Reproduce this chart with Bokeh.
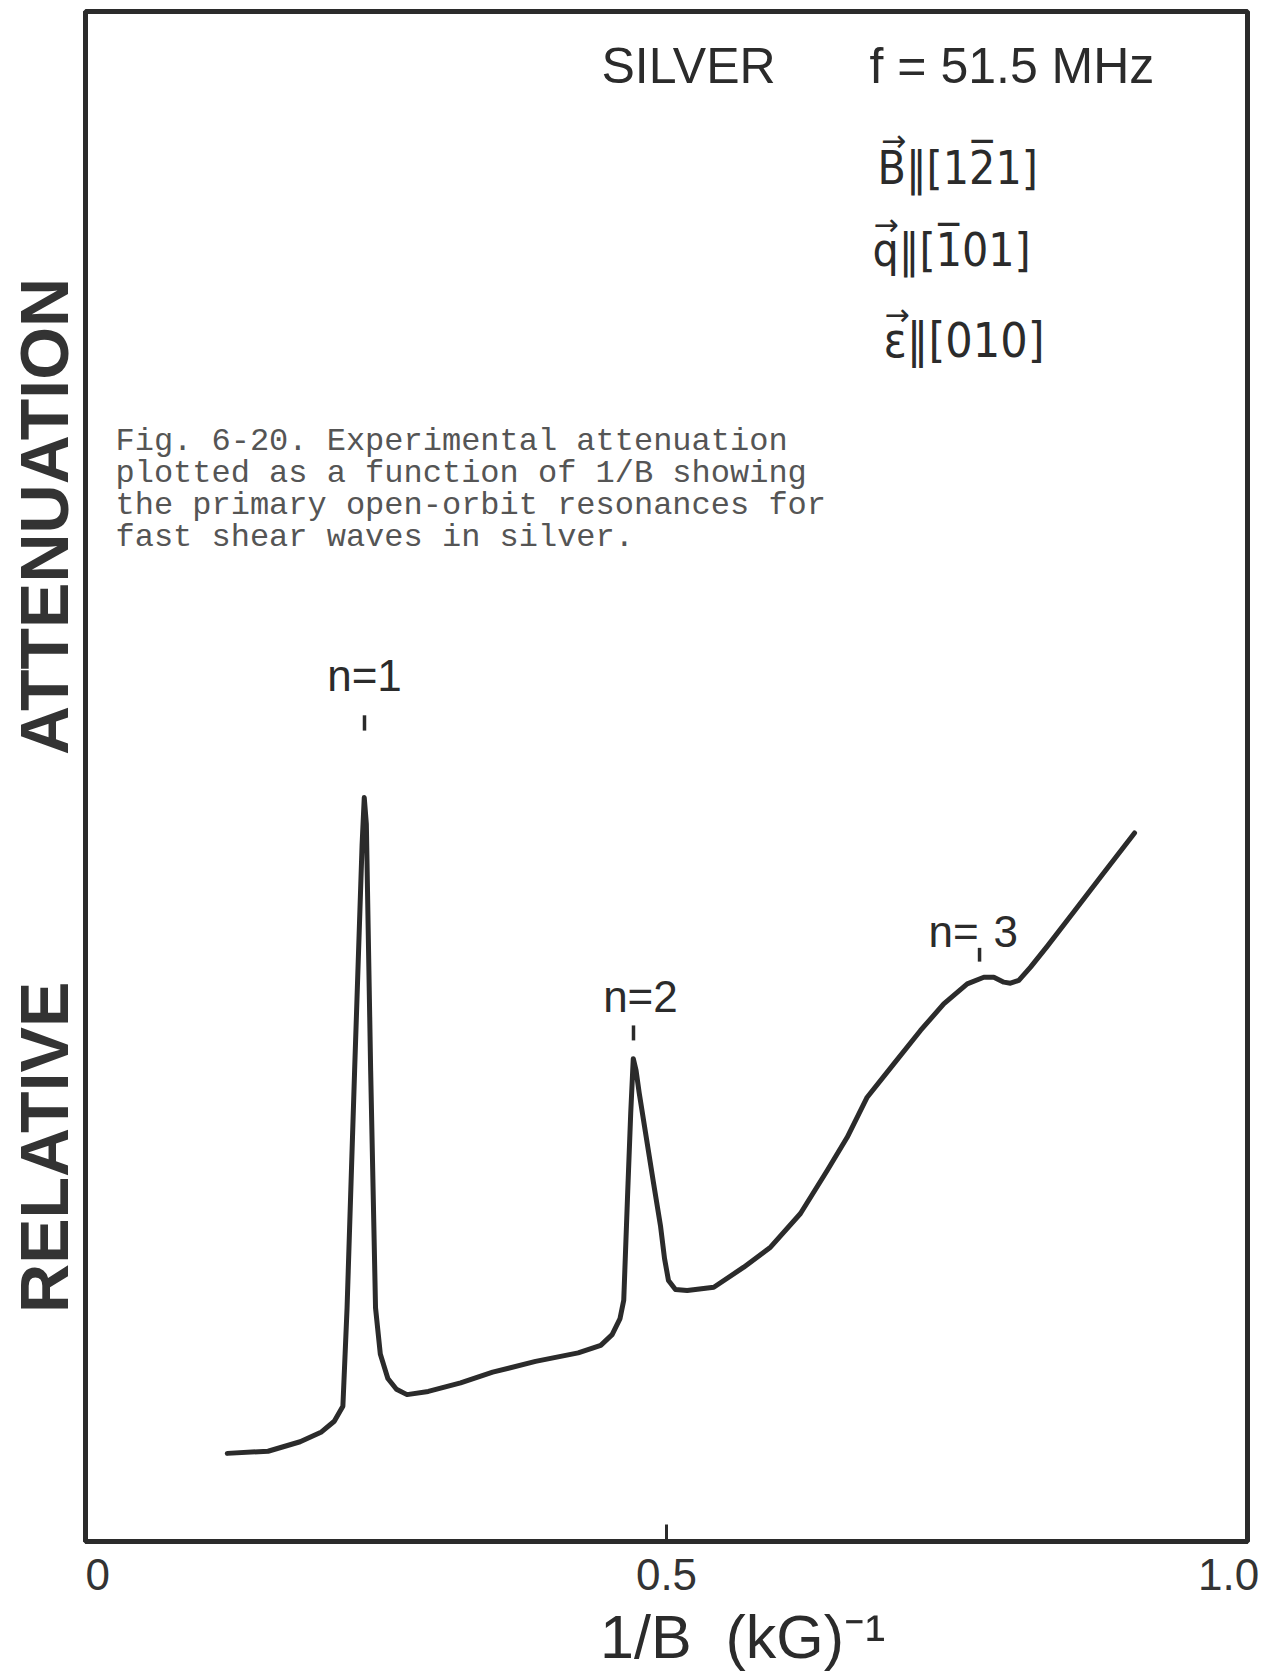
from bokeh.plotting import figure
from bokeh.models import Label, FixedTicker, Range1d
from bokeh.embed import file_html
from bokeh.resources import INLINE

# ---- data (x: 1/B in (kG)^-1, y: relative attenuation, arbitrary units 0-100)
inv_b = [0.1220, 0.1571, 0.1847, 0.2031, 0.2141, 0.2215, 0.2251, 0.2316, 0.2380, 0.2399,
         0.2417, 0.2454, 0.2496, 0.2537, 0.2602, 0.2676, 0.2767, 0.2950, 0.3228, 0.3504,
         0.3873, 0.4240, 0.4434, 0.4532, 0.4600, 0.4632, 0.4664, 0.4692, 0.4714, 0.4738,
         0.4765, 0.4885, 0.4948, 0.4983, 0.5017, 0.5077, 0.5178, 0.5407, 0.5665, 0.5895,
         0.6153, 0.6383, 0.6555, 0.6727, 0.6956, 0.7186, 0.7386, 0.7588, 0.7731, 0.7817,
         0.7903, 0.7960, 0.8032, 0.8133, 0.8276, 0.8476, 0.8752, 0.9028]
attenuation = [5.76, 5.90, 6.52, 7.16, 7.86, 8.84, 15.27, 30.79, 45.48, 48.62,
               46.88, 30.79, 15.27, 12.26, 10.65, 9.95, 9.60, 9.81, 10.37, 11.07,
               11.77, 12.33, 12.82, 13.52, 14.57, 15.76, 22.40, 27.99, 31.56, 30.79,
               29.32, 23.59, 20.65, 18.50, 17.06, 16.47, 16.41, 16.62, 17.93, 19.24,
               21.44, 24.25, 26.42, 29.04, 31.22, 33.40, 35.14, 36.45, 36.88, 36.88,
               36.56, 36.49, 36.67, 37.54, 38.90, 40.86, 43.59, 46.31]

resonance_x = [0.2401, 0.4716, 0.7694]
resonance_names = ["n=1", "n=2", "n=3"]
x_ticks = [0, 0.5, 1.0]
x_tick_labels = ["0", "0.5", "1.0"]

caption_lines = [
    "Fig. 6-20. Experimental attenuation",
    "plotted as a function of 1/B showing",
    "the primary open-orbit resonances for",
    "fast shear waves in silver.",
]

INK = "#2b2b2b"
NB = "\u00a0"

p = figure(width=1271, height=1678, x_range=Range1d(0, 1), y_range=Range1d(0, 100),
           output_backend="svg", toolbar_location=None,
           min_border_left=85, min_border_right=24, min_border_top=11, min_border_bottom=137)
p.background_fill_color = "white"
p.border_fill_color = "white"
p.grid.visible = False
p.outline_line_color = INK
p.outline_line_width = 5
p.outline_line_alpha = 1.0

# x axis (tick labels nudged like the hand-lettered original)
label_pad = {"0": NB * 2 + "0", "0.5": "0.5", "1.0": "1.0" + NB}
xa = p.xaxis[0]
xa.ticker = FixedTicker(ticks=x_ticks)
xa.major_label_overrides = {t: label_pad[s] for t, s in zip(x_ticks, x_tick_labels)}
xa.axis_line_color = INK
xa.axis_line_width = 5
xa.major_tick_in = 17
xa.major_tick_out = 0
xa.major_tick_line_width = 3
xa.major_tick_line_color = INK
xa.minor_tick_line_color = None
xa.major_label_text_font = "Liberation Sans"
xa.major_label_text_font_size = "44px"
xa.major_label_text_color = "#333333"
xa.major_label_text_line_height = 1.0
xa.major_label_standoff = 8
xa.axis_label = NB * 9 + "1/B" + NB * 2 + "(kG)\u207b\u00b9"
xa.axis_label_text_font = "Liberation Sans"
xa.axis_label_text_font_size = "61px"
xa.axis_label_text_font_style = "normal"
xa.axis_label_text_color = INK
xa.axis_label_text_line_height = 1.0
xa.axis_label_standoff = 1

# y axis: only its title
ya = p.yaxis[0]
ya.ticker = FixedTicker(ticks=[])
ya.axis_line_color = INK
ya.axis_line_width = 5
ya.major_tick_in = 0
ya.major_tick_out = 0
ya.minor_tick_line_color = None
ya.major_label_text_font_size = "0px"
ya.major_label_standoff = 0
ya.axis_label = "RELATIVE" + NB * 12 + "ATTENUATION" + NB * 2
ya.axis_label_text_font = "Liberation Sans"
ya.axis_label_text_font_style = "bold"
ya.axis_label_text_font_size = "68px"
ya.axis_label_text_color = "#333333"
ya.axis_label_standoff = 4

# curve
p.line(inv_b, attenuation, line_width=5, line_color=INK, line_join="round", line_cap="round")

# resonance markers
p.segment(x0=resonance_x, y0=[53.0, 32.75, 37.9], x1=resonance_x, y1=[54.0, 33.73, 38.8],
          line_width=3.5, line_color=INK)

lab_font = "Liberation Sans"
p.add_layout(Label(x=resonance_x[0], y=56.6, text=resonance_names[0], text_align="center",
                   text_baseline="middle", text_font=lab_font, text_font_size="44px", text_color=INK))
p.add_layout(Label(x=resonance_x[1] + 0.006, y=35.6, text=resonance_names[1], text_align="center",
                   text_baseline="middle", text_font=lab_font, text_font_size="44px", text_color=INK))
p.add_layout(Label(x=resonance_x[2] - 0.0008, y=39.9, text=resonance_names[2][:2], text_align="right",
                   text_baseline="middle", text_font=lab_font, text_font_size="44px", text_color=INK))
p.add_layout(Label(x=resonance_x[2] + 0.012, y=39.9, text=resonance_names[2][2:], text_align="left",
                   text_baseline="middle", text_font=lab_font, text_font_size="44px", text_color=INK))

# header annotations
p.add_layout(Label(x=0.519, y=96.44, text="SILVER", text_align="center", text_baseline="middle",
                   text_font=lab_font, text_font_size="50px", text_color=INK))
p.add_layout(Label(x=0.6747, y=96.44, text="f = 51.5 MHz", text_align="left", text_baseline="middle",
                   text_font=lab_font, text_font_size="50px", text_color=INK))

orient_font = "DejaVu Sans Condensed"
p.add_layout(Label(x=0.6816, y=89.8, text="B\u2016[12\u03051]", text_align="left", text_baseline="middle",
                   text_font=orient_font, text_font_size="46px", text_color=INK))
p.add_layout(Label(x=0.6773, y=84.4, text="q\u2016[1\u030501]", text_align="left", text_baseline="middle",
                   text_font=orient_font, text_font_size="46px", text_color=INK))
p.add_layout(Label(x=0.6867, y=78.5, text="\u03b5\u2016[010]", text_align="left", text_baseline="middle",
                   text_font=orient_font, text_font_size="48px", text_color=INK))
# vector arrows above B, q, epsilon
for ax_, ay_ in [(0.6954, 91.6), (0.6890, 86.1), (0.6985, 80.2)]:
    p.add_layout(Label(x=ax_, y=ay_, text="\u2192", text_align="center", text_baseline="middle",
                       text_font="DejaVu Sans", text_font_size="30px", text_color=INK))

# caption
cap_y0 = 71.9
cap_dy = 2.09
for i, line in enumerate(caption_lines):
    p.add_layout(Label(x=0.0258, y=cap_y0 - i * cap_dy, text=line, text_align="left",
                       text_baseline="middle", text_font="Liberation Mono", text_font_size="32px",
                       text_color="#555555"))

open("out.html", "w").write(file_html(p, INLINE))
